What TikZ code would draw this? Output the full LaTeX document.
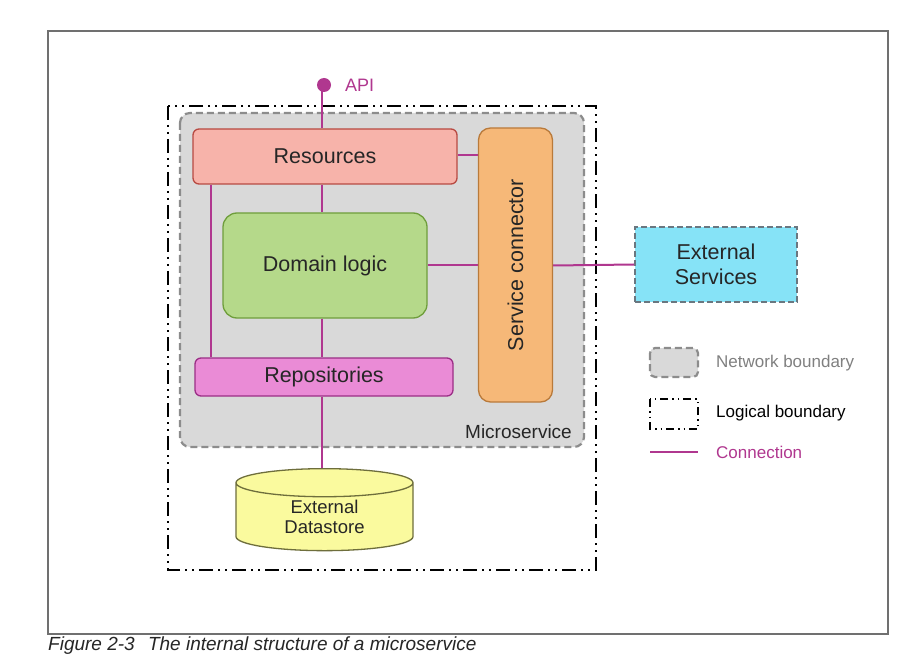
\documentclass[tikz,border=0pt]{standalone}
\usepackage{fontspec}
\setmainfont{Liberation Sans}
\usetikzlibrary{shapes.geometric}
\definecolor{conn}{HTML}{B0378F}
\definecolor{resfill}{HTML}{F7B3AA}\definecolor{resdraw}{HTML}{B84A42}
\definecolor{scfill}{HTML}{F6B878}\definecolor{scdraw}{HTML}{B97A3B}
\definecolor{domfill}{HTML}{B5D98A}\definecolor{domdraw}{HTML}{6F9E3C}
\definecolor{repfill}{HTML}{EA8BD6}\definecolor{repdraw}{HTML}{9B2E86}
\definecolor{extfill}{HTML}{86E3F7}\definecolor{extdraw}{HTML}{6A7780}
\definecolor{dsfill}{HTML}{FAFA9E}\definecolor{dsdraw}{HTML}{6E6E3C}
\definecolor{netfill}{HTML}{D9D9D9}\definecolor{netdraw}{HTML}{8C8C8C}
\definecolor{framec}{HTML}{707070}
\tikzset{
  box/.style={rectangle, rounded corners=6pt, line width=1.3pt, inner sep=0pt, font=\fontsize{21.5}{25}\selectfont, text=black!85},
  netb/.style={draw=netdraw, line width=2.2pt, dash pattern=on 7pt off 4pt},
  logb/.style={draw=black, line width=2pt, dash pattern=on 14pt off 5pt on 2pt off 5pt on 2pt off 5pt},
  wire/.style={draw=conn, line width=2pt},
  legtext/.style={anchor=west, inner sep=0pt, font=\fontsize{17}{20}\selectfont}
}
\begin{document}
\begin{tikzpicture}[x=1pt,y=-1pt]
\useasboundingbox (0,0) rectangle (916,655);
\fill[white] (0,0) rectangle (916,655);
% outer frame
\draw[framec, line width=1.5pt] (48,31) rectangle (888,634);
\node[anchor=base west, inner sep=0pt, font=\fontsize{19}{22}\selectfont\itshape, text=black!85] (cap) at (48,650) {Figure 2-3\hspace{0.7em}The internal structure of a microservice};
% logical boundary
\draw[logb] (168,106) rectangle (596,570);
% network boundary
\draw[netb, fill=netfill, rounded corners=10pt] (180,113) rectangle (584,447);
\node[anchor=south east, inner sep=0pt, font=\fontsize{19}{22}\selectfont, text=black!85] (ms) at (572,439) {Microservice};
% nodes
\node[box, fill=resfill, draw=resdraw, minimum width=264pt, minimum height=55pt] (res) at (325,156.5) {Resources};
\node[box, fill=scfill, draw=scdraw, minimum width=74pt, minimum height=274pt, rounded corners=12pt] (sc) at (515.5,265) {};
\node[rotate=90, font=\fontsize{21.5}{25}\selectfont, text=black!85] (sclabel) at (sc.center) {Service connector};
\node[box, fill=domfill, draw=domdraw, minimum width=204pt, minimum height=105pt, rounded corners=14pt] (dom) at (325,265.5) {Domain logic};
\node[box, fill=repfill, draw=repdraw, minimum width=258pt, minimum height=38pt] (rep) at (324,377) {Repositories};
\node[cylinder, shape border rotate=90, aspect=0.35, draw=dsdraw, fill=dsfill, line width=1.3pt, minimum width=177pt, minimum height=82pt, inner sep=0pt, align=center, font=\fontsize{18.5}{20}\selectfont, text=black!85] (ds) at (324.5,517) {External\\Datastore};
\node[rectangle, fill=extfill, draw=extdraw, line width=2pt, dash pattern=on 6pt off 3pt, minimum width=162pt, minimum height=75pt, align=center, font=\fontsize{21.5}{25}\selectfont, text=black!85] (ext) at (716,264.5) {External\\Services};
% API
\fill[conn] (324,85) circle (7pt);
\coordinate (api) at (322,85);
\node[anchor=west, inner sep=0pt, text=conn, font=\fontsize{18}{21}\selectfont] (apil) at (345,85) {API};
% connections
\draw[wire] (api) -- (res.north -| api);
\draw[wire] (res.south -| api) -- (dom.north -| api);
\draw[wire] (dom.south -| api) -- (rep.north -| api);
\draw[wire] (rep.south -| api) -- (ds.north -| api);
\coordinate (lx) at (211,0);
\draw[wire] (res.south -| lx) -- (rep.north -| lx);
\draw[wire] (res.east |- 0,155) -- (sc.west |- 0,155);
\draw[wire] (dom.east) -- (sc.west |- dom.east);
\draw[wire] (sc.east |- dom.east) -- (ext.west);
% legend
\draw[netb, fill=netfill, rounded corners=5pt] (650,348) rectangle (698,377);
\node[legtext, text=gray] (l1) at (716,363) {Network boundary};
\draw[logb, line width=1.6pt, dash pattern=on 8pt off 4pt on 1.5pt off 4pt on 1.5pt off 4pt] (650,399) rectangle (698,429);
\node[legtext, text=black] (l2) at (716,413) {Logical boundary};
\coordinate (c1) at (650,452); \coordinate (c2) at (698,452);
\draw[wire, line width=1.6pt] (c1) -- (c2);
\node[legtext, text=conn] (l3) at (716,452) {Connection};
\end{tikzpicture}
\end{document}
